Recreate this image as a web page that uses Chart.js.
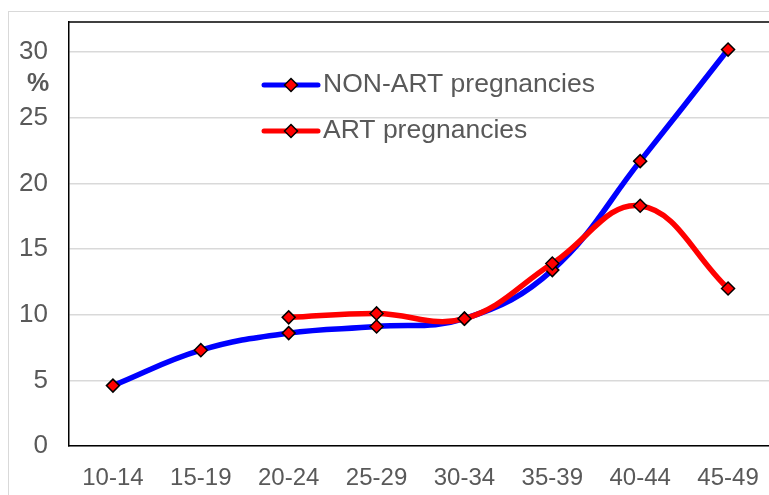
<!DOCTYPE html>
<html>
<head>
<meta charset="utf-8">
<script src="https://cdn.jsdelivr.net/npm/chart.js@4"></script>
<style>
  html, body { margin: 0; padding: 0; background: #fff; overflow: hidden; width: 769px; height: 495px; }
  #wrap { position: absolute; left: 0; top: 0; width: 780px; height: 495px; }
  #frame { position: absolute; left: 8px; top: 11px; width: 800px; height: 600px; border: 1.5px solid #d9d9d9; box-sizing: border-box; pointer-events: none; }
  canvas { display: block; }
</style>
</head>
<body>
<div id="frame"></div>
<div id="wrap"><canvas id="c" width="780" height="495"></canvas></div>
<script>
const categories = ['10-14', '15-19', '20-24', '25-29', '30-34', '35-39', '40-44', '45-49'];
const nonArt = [4.6, 7.3, 8.6, 9.1, 9.7, 13.4, 21.7, 30.2];
const art = [null, null, 9.8, 10.1, 9.7, 13.9, 18.3, 12.0];
const yTicks = [0, 5, 10, 15, 20, 25, 30];
const seriesNames = ['NON-ART pregnancies', 'ART pregnancies'];

const FONT = '"Liberation Sans", Arial, sans-serif';
const TEXT = '#595959';

const decorPlugin = {
  id: 'decor',
  afterDraw(chart) {
    const ctx = chart.ctx;
    const a = chart.chartArea;
    ctx.save();
    ctx.strokeStyle = '#000';
    ctx.lineWidth = 1.5;
    ctx.beginPath();
    ctx.moveTo(a.left, a.top);
    ctx.lineTo(a.right + 5, a.top);
    ctx.stroke();
    ctx.fillStyle = TEXT;
    ctx.font = 'bold 25px ' + FONT;
    ctx.textAlign = 'center';
    ctx.textBaseline = 'middle';
    ctx.fillText('%', 38, 84);
    const items = [
      { label: chart.data.datasets[0].label, color: chart.data.datasets[0].borderColor, y: 85 },
      { label: chart.data.datasets[1].label, color: chart.data.datasets[1].borderColor, y: 131 }
    ];
    items.forEach(it => {
      ctx.strokeStyle = it.color;
      ctx.lineWidth = 5;
      ctx.lineCap = 'round';
      ctx.beginPath();
      ctx.moveTo(264, it.y);
      ctx.lineTo(318, it.y);
      ctx.stroke();
      const cx = 291, cy = it.y, r = 6.5;
      ctx.beginPath();
      ctx.moveTo(cx, cy - r);
      ctx.lineTo(cx + r, cy);
      ctx.lineTo(cx, cy + r);
      ctx.lineTo(cx - r, cy);
      ctx.closePath();
      ctx.fillStyle = '#ff0000';
      ctx.fill();
      ctx.lineWidth = 1.5;
      ctx.lineCap = 'butt';
      ctx.strokeStyle = '#000';
      ctx.stroke();
      ctx.fillStyle = TEXT;
      ctx.font = '26.5px ' + FONT;
      ctx.textAlign = 'left';
      ctx.textBaseline = 'middle';
      ctx.fillText(it.label, 323, it.y);
    });
    ctx.restore();
  }
};

const pointCommon = {
  pointStyle: 'rectRot',
  pointRadius: 6.5,
  pointHoverRadius: 6.5,
  pointBackgroundColor: '#ff0000',
  pointBorderColor: '#000000',
  pointBorderWidth: 1.5,
  borderWidth: 5.5,
  tension: 0.4,
  fill: false,
  spanGaps: false
};

new Chart(document.getElementById('c'), {
  type: 'line',
  data: {
    labels: categories,
    datasets: [
      Object.assign({ label: seriesNames[0], data: nonArt, borderColor: '#0000ff', order: 2 }, pointCommon),
      Object.assign({ label: seriesNames[1], data: art, borderColor: '#ff0000', order: 1 }, pointCommon)
    ]
  },
  options: {
    responsive: false,
    animation: false,
    events: [],
    layout: { padding: { top: 22, left: 0, right: 0, bottom: 0 } },
    plugins: { legend: { display: false }, tooltip: { enabled: false } },
    scales: {
      x: {
        offset: true,
        grid: { display: false, drawTicks: false },
        border: { display: true, color: '#000', width: 1.5 },
        ticks: { color: TEXT, font: { family: FONT, size: 24 }, padding: 18, maxRotation: 0, autoSkip: false },
        afterFit(scale) { scale.height = 49; scale.paddingLeft = 0; scale.paddingRight = 0; }
      },
      y: {
        min: 0,
        max: 32.3,
        afterBuildTicks(scale) { scale.ticks = yTicks.map(v => ({ value: v })); },
        grid: { color: '#d9d9d9', lineWidth: 1.5, drawTicks: false },
        border: { display: true, color: '#000', width: 1.5 },
        ticks: { color: TEXT, font: { family: FONT, size: 26 }, padding: 21 },
        afterFit(scale) { scale.width = 69; scale.paddingTop = 0; scale.paddingBottom = 0; }
      }
    }
  },
  plugins: [decorPlugin]
});
</script>
</body>
</html>
